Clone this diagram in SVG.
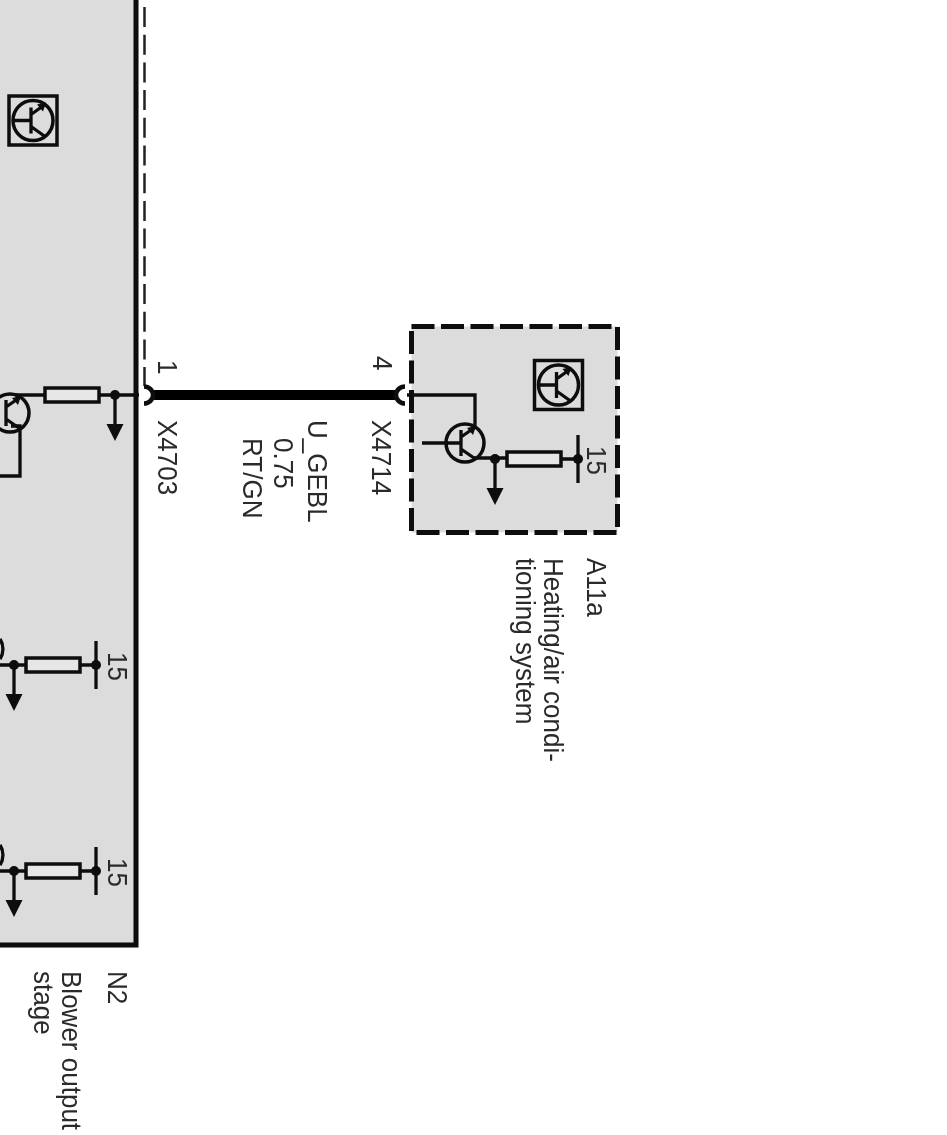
<svg xmlns="http://www.w3.org/2000/svg" width="947" height="1135" viewBox="0 0 947 1135">
<style>
text{font-family:"Liberation Sans",Arial,sans-serif;font-size:28px;fill:#2a2a2a}
.w{fill:none;stroke:#0c0c0c;stroke-width:3.300}
.r{fill:#e6e6e6;stroke:#0c0c0c;stroke-width:3.500}
.d{fill:#0c0c0c}
.c{fill:none;stroke:#0c0c0c;stroke-width:3.500}
.icon{fill:none;stroke:#0c0c0c;stroke-width:3.500}
.soft{filter:url(#soft)}
</style>
<defs>
<filter id="soft" x="-5%" y="-5%" width="110%" height="110%"><feGaussianBlur stdDeviation="0.4"/></filter>
<g id="res"><rect class="r" x="0" y="-7" width="54" height="14"/></g>
<g id="gnd"><circle class="d" cx="0" cy="0" r="5"/><path class="w" d="M0 0V30"/><path class="d" d="M-8.500 29H8.500L0 46Z"/></g>
<g id="plus"><path class="w" d="M0 -24V24"/><circle class="d" cx="0" cy="0" r="5"/></g>
<g id="tr"><circle class="c" cx="0" cy="0" r="19"/><path class="w" d="M-4 -13V13M-4 -6L9 -15M-4 6L9 15"/><path class="d" d="M2 -15L11 -17L8 -8Z"/></g>
<g id="icon"><rect class="icon" x="-24" y="-24.500" width="48" height="49"/><circle class="c" cx="0" cy="0" r="20"/><path class="w" d="M-19 0H-3M-2 -13V13M-2 -6L12 -16M-2 6L12 16"/><path class="d" d="M4 -16L13 -18L10 -9Z"/></g>
</defs>

<g id="N2" class="soft">
<path d="M0 0H136V945H0Z" fill="#dcdcdc"/>
<path d="M136 0V945H0" fill="none" stroke="#0a0a0a" stroke-width="5"/>
<use href="#icon" x="33" y="120.500"/>
<use href="#tr" x="10" y="413"/>
<path class="w" d="M15 395H45M99 395H139M11 426L20 426V476H0"/>
<use href="#res" x="45" y="395"/>
<use href="#gnd" x="115" y="395"/>
<path class="w" d="M0 665H26M81 665H96M0 871H26M81 871H96"/>
<path class="c" d="M0 639A19 19 0 0 1 0 659"/>
<path class="c" d="M0 845A19 19 0 0 1 0 865"/>
<use href="#res" x="26" y="665"/>
<use href="#gnd" x="14" y="665"/>
<use href="#plus" x="96" y="665"/>
<use href="#res" x="26" y="871"/>
<use href="#gnd" x="14" y="871"/>
<use href="#plus" x="96" y="871"/>
<text transform="translate(108,652) rotate(90) scale(.93,1)">15</text>
<text transform="translate(108,858) rotate(90) scale(.93,1)">15</text>
<text transform="translate(108,971) rotate(90) scale(.93,1)">N2</text>
<text transform="translate(62,971) rotate(90) scale(.93,1)">Blower output</text>
<text transform="translate(34,971) rotate(90) scale(.93,1)">stage</text>
</g>

<g id="A11a" class="soft">
<rect x="411.500" y="326.500" width="206" height="206" fill="#dcdcdc" stroke="#0a0a0a" stroke-width="5" stroke-dasharray="23 6.500"/>
<use href="#icon" x="558.500" y="385"/>
<use href="#tr" x="465" y="443"/>
<path class="w" d="M407 395H475V428M422 443H461M474 458H507M562 459H578"/>
<use href="#res" x="507" y="459"/>
<use href="#gnd" x="495" y="459"/>
<use href="#plus" x="578" y="459"/>
<text transform="translate(587,446) rotate(90) scale(.93,1)">15</text>
<text transform="translate(587,558) rotate(90) scale(.93,1)">A11a</text>
<text transform="translate(544,558) rotate(90) scale(.93,1)">Heating/air condi-</text>
<text transform="translate(516,558) rotate(90) scale(.93,1)">tioning system</text>
</g>

<g id="connectors" class="soft">
<path d="M144.500 7V386" fill="none" stroke="#222" stroke-width="2.500" stroke-dasharray="20 7.700"/>
<path d="M152 395H398" fill="none" stroke="#050505" stroke-width="10"/>
<path d="M144 387A9 8.500 0 0 1 144 404" fill="none" stroke="#111" stroke-width="4.500" transform="translate(0,-0.500)"/>
<path d="M405 386.500A9 8.500 0 0 0 405 403.500" fill="none" stroke="#111" stroke-width="4.500"/>
</g>

<g id="labels" class="soft">
<text transform="translate(158,360) rotate(90) scale(.93,1)">1</text>
<text transform="translate(373,356) rotate(90) scale(.93,1)">4</text>
<text transform="translate(158,420) rotate(90) scale(.93,1)">X4703</text>
<text transform="translate(372,420) rotate(90) scale(.93,1)">X4714</text>
<text transform="translate(308,420) rotate(90) scale(.93,1)">U_GEBL</text>
<text transform="translate(274,438) rotate(90) scale(.93,1)">0.75</text>
<text transform="translate(243,438) rotate(90) scale(.93,1)">RT/GN</text>
</g>
</svg>
